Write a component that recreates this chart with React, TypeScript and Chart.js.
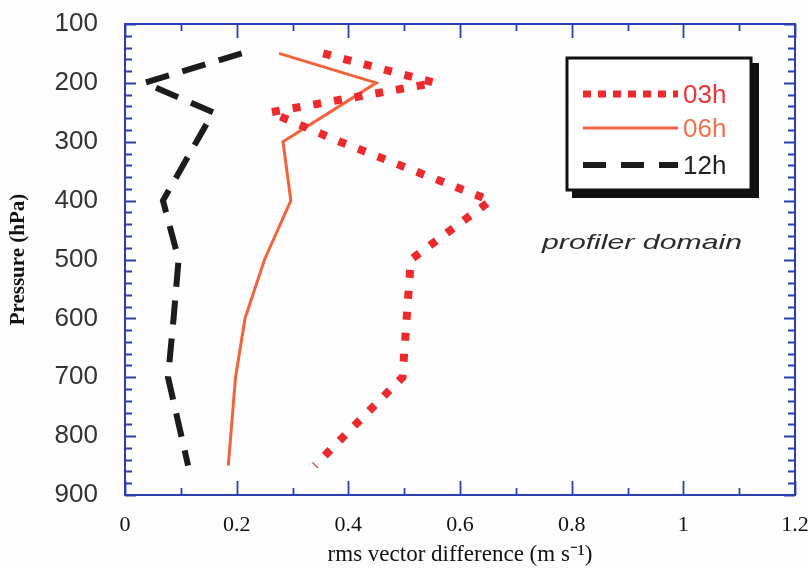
import React, { useEffect, useRef } from "react";
import { Chart, registerables } from "chart.js";

Chart.register(...registerables);

// ---- data ----
const seriesLabels = ["03h", "06h", "12h"];

const pressure03 = [150, 200, 250, 300, 400, 500, 700, 850];
const rms03 = [0.355, 0.555, 0.26, 0.385, 0.655, 0.512, 0.497, 0.34];

const pressure06 = [150, 200, 300, 400, 500, 600, 700, 850];
const rms06 = [0.276, 0.45, 0.283, 0.297, 0.25, 0.215, 0.198, 0.185];

const pressure12 = [150, 200, 250, 300, 400, 500, 600, 700, 850];
const rms12 = [0.209, 0.035, 0.158, 0.128, 0.068, 0.096, 0.087, 0.077, 0.113];

const xMin = 0;
const xMax = 1.2;
const xStep = 0.2;
const xMinorStep = 0.1;
const yMin = 100;
const yMax = 900;
const yStep = 100;
const yMinorStep = 20;

const xTitle = "rms vector difference (m s\u207B\u00B9)";
const yTitle = "Pressure (hPa)";
const annotationText = "profiler domain";

// ---- styles ----
const RED = "#ec2a2e";
const ORANGE = "#f0633c";
const BLACK = "#1c1c1c";
const FRAME_BLUE = "#2a3eb1";
const SERIF = "'Liberation Serif', 'Times New Roman', serif";
const SANS = "'Liberation Sans', Arial, sans-serif";

const toPoints = (ps: number[], vs: number[]) => ps.map((p, i) => ({ x: vs[i], y: p }));

const framePlugin = {
  id: "frameTicks",
  beforeDatasetsDraw(chart: any) {
    const { ctx, chartArea: a, scales } = chart;
    const x = scales.x;
    const y = scales.y;
    ctx.save();
    ctx.strokeStyle = FRAME_BLUE;
    ctx.lineWidth = 2;
    ctx.strokeRect(a.left, a.top, a.right - a.left, a.bottom - a.top);
    ctx.lineWidth = 1.8;
    ctx.beginPath();
    const nx = Math.round((xMax - xMin) / xMinorStep);
    for (let i = 0; i <= nx; i++) {
      const v = xMin + i * xMinorStep;
      const px = Math.round(x.getPixelForValue(v)) + 0.5;
      const major = Math.abs(v / xStep - Math.round(v / xStep)) < 1e-6;
      const len = major ? 14 : 7;
      ctx.moveTo(px, a.bottom);
      ctx.lineTo(px, a.bottom - len);
      ctx.moveTo(px, a.top);
      ctx.lineTo(px, a.top + len);
    }
    for (let p = yMin; p <= yMax; p += yMinorStep) {
      const py = Math.round(y.getPixelForValue(p)) + 0.5;
      const len = p % yStep === 0 ? 11 : 7;
      ctx.moveTo(a.left, py);
      ctx.lineTo(a.left + len, py);
      ctx.moveTo(a.right, py);
      ctx.lineTo(a.right - len, py);
    }
    ctx.stroke();
    ctx.restore();
  },
};

const legendSampleDash: Record<string, number[]> = {
  "03h": [8, 7],
  "06h": [],
  "12h": [23, 15],
};
const legendTextColor: Record<string, string> = {
  "03h": "#ee3436",
  "06h": "#f2704c",
  "12h": "#222222",
};

const legendPlugin = {
  id: "boxLegend",
  afterDatasetsDraw(chart: any) {
    const { ctx } = chart;
    const bx = 567;
    const by = 58;
    const bw = 184;
    const bh = 132;
    ctx.save();
    // shadow
    ctx.fillStyle = "#111";
    ctx.fillRect(bx + 5, by + 5, bw + 3, bh + 3);
    // box
    ctx.fillStyle = "#ffffff";
    ctx.fillRect(bx, by, bw, bh);
    ctx.strokeStyle = "#111";
    ctx.lineWidth = 3;
    ctx.strokeRect(bx, by, bw, bh);

    const rows = [94, 128, 165];
    chart.data.datasets.forEach((ds: any, i: number) => {
      const yy = rows[i];
      ctx.beginPath();
      ctx.strokeStyle = ds.borderColor;
      ctx.lineWidth = i === 0 ? 7 : ds.borderWidth;
      ctx.setLineDash(legendSampleDash[ds.label] || []);
      ctx.lineCap = "butt";
      ctx.moveTo(583, yy);
      ctx.lineTo(678, yy);
      ctx.stroke();
      ctx.setLineDash([]);
      ctx.fillStyle = legendTextColor[ds.label];
      ctx.font = `26px ${SANS}`;
      ctx.textBaseline = "middle";
      ctx.textAlign = "left";
      ctx.fillText(ds.label, 683, yy + 2);
    });

    // annotation text, italic and a little stretched like the reference
    ctx.font = `italic 21px ${SANS}`;
    const w = ctx.measureText(annotationText).width;
    ctx.translate(542, 243);
    ctx.scale(200 / w, 1);
    ctx.fillStyle = "#2b2b2b";
    ctx.textBaseline = "middle";
    ctx.fillText(annotationText, 0, 0);
    ctx.restore();
  },
};

const bgPlugin = {
  id: "bg",
  beforeDraw(chart: any) {
    const { ctx, width, height } = chart;
    ctx.save();
    ctx.fillStyle = "#fdfdfd";
    ctx.fillRect(0, 0, width, height);
    ctx.restore();
  },
};

export default function App() {
  const ref = useRef<HTMLCanvasElement>(null);

  useEffect(() => {
    if (!ref.current) return;
    const chart = new Chart(ref.current, {
      type: "line",
      data: {
        datasets: [
          {
            label: seriesLabels[0],
            data: toPoints(pressure03, rms03),
            borderColor: RED,
            borderWidth: 8,
            borderDash: [8, 13],
            borderCapStyle: "butt",
            pointRadius: 0,
            fill: false,
            tension: 0,
          },
          {
            label: seriesLabels[1],
            data: toPoints(pressure06, rms06),
            borderColor: ORANGE,
            borderWidth: 3,
            pointRadius: 0,
            fill: false,
            tension: 0,
          },
          {
            label: seriesLabels[2],
            data: toPoints(pressure12, rms12),
            borderColor: BLACK,
            borderWidth: 6,
            borderDash: [24, 14],
            borderCapStyle: "butt",
            pointRadius: 0,
            fill: false,
            tension: 0,
          },
        ],
      },
      options: {
        responsive: false,
        animation: false,
        devicePixelRatio: 1,
        layout: { padding: { top: 24, right: 14, left: 0, bottom: 0 } },
        plugins: {
          legend: { display: false },
          tooltip: { enabled: false },
        },
        scales: {
          x: {
            type: "linear",
            min: xMin,
            max: xMax,
            grid: { display: false, drawTicks: false },
            border: { display: false },
            ticks: {
              stepSize: xStep,
              padding: 17,
              color: "#111",
              font: { family: SERIF, size: 22 },
              maxRotation: 0,
              callback: (v: any) => String(Number(Number(v).toFixed(1))),
            },
            title: {
              display: true,
              text: xTitle,
              color: "#111",
              font: { family: SERIF, size: 23 },
              padding: { top: 0, bottom: 1 },
            },
            afterFit: (s: any) => {
              s.height = 75;
              s.paddingLeft = 0;
              s.paddingRight = 0;
            },
          },
          y: {
            type: "linear",
            reverse: true,
            min: yMin,
            max: yMax,
            grid: { display: false, drawTicks: false },
            border: { display: false },
            ticks: {
              stepSize: yStep,
              padding: 27,
              color: "#333",
              font: { family: SANS, size: 26 },
            },
            title: {
              display: true,
              text: yTitle,
              color: "#111",
              font: { family: SERIF, size: 21, weight: "bold" },
              padding: { top: 6, bottom: 0 },
            },
            afterFit: (s: any) => {
              s.width = 125;
              s.paddingTop = 0;
              s.paddingBottom = 0;
            },
          },
        },
      },
      plugins: [bgPlugin, framePlugin, legendPlugin],
    } as any);
    return () => chart.destroy();
  }, []);

  return (
    <div style={{ position: "absolute", left: 0, top: 0, width: 809, height: 570, background: "#fdfdfd" }}>
      <canvas ref={ref} width={809} height={570} style={{ display: "block", width: 809, height: 570 }} />
    </div>
  );
}
